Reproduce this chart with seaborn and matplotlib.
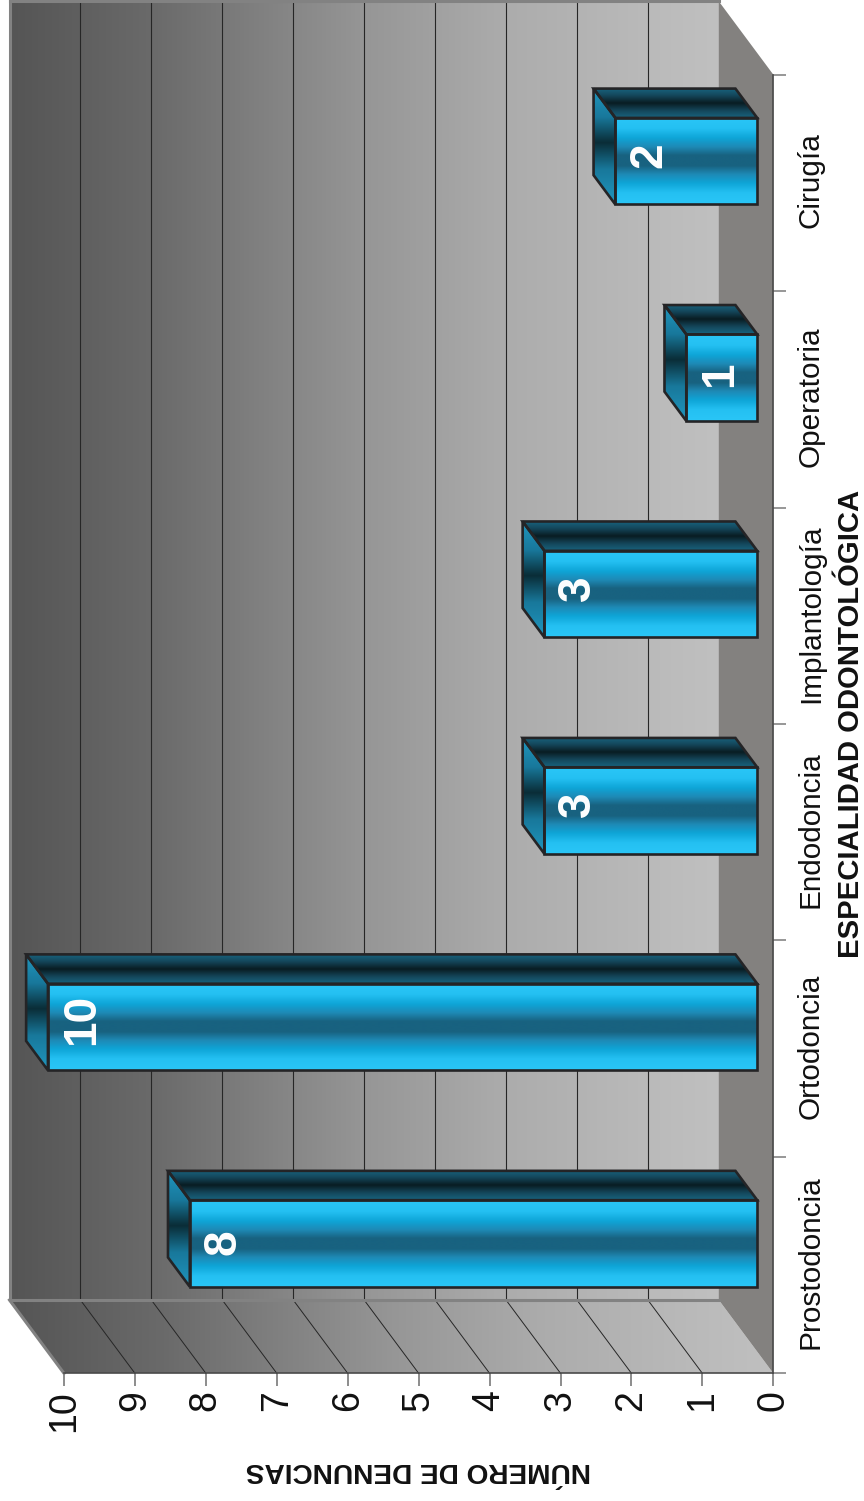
import numpy as np
import pandas as pd
import matplotlib
matplotlib.use("Agg")
import matplotlib.pyplot as plt
import seaborn as sns
from matplotlib.colors import LinearSegmentedColormap
from matplotlib.patches import Polygon
from matplotlib.transforms import Affine2D, IdentityTransform

categories = ["Prostodoncia", "Ortodoncia", "Endodoncia", "Implantología", "Operatoria", "Cirugía"]
values = [8, 10, 3, 3, 1, 2]
value_ticks = list(range(11))
x_title = "NÚMERO DE DENUNCIAS"
y_title = "ESPECIALIDAD ODONTOLÓGICA"
label_nudge = [1, 8, 6, 6, 3, 6]  # vertical shift of the value labels, pixels

W, H = 864, 1501
DEPTH = np.array([-54.5, 73.3])   # full floor depth in display pixels
FRONT, BACK = 0.295, 0.695        # bar position within the depth

sns.set_theme(style="white")
plt.rcParams["font.family"] = ["Liberation Sans", "DejaVu Sans"]

fig = plt.figure(figsize=(W / 100, H / 100), dpi=100, facecolor="white")
ax = fig.add_axes([64 / W, (H - 1373.3) / H, 709.3 / W, 1298.7 / H])
ax.patch.set_visible(False)

df = pd.DataFrame({"cat": categories, "val": values})
sns.barplot(data=df, x="val", y="cat", order=categories, orient="h", width=0.4, ax=ax,
            color="#22b5e5", saturation=1, errorbar=None)
ax.set_xlim(10, 0)
ax.set_ylim(-0.5, len(categories) - 0.5)
ax.set_aspect("auto")
fig.canvas.draw()


def P(v, c, d=0.0):
    return ax.transData.transform((v, c)) + d * DEPTH


def gradient(stops, n=256):
    cm = LinearSegmentedColormap.from_list("g", [(p, tuple(i / 255 for i in c)) for p, c in stops])
    return cm(np.linspace(0, 1, n))


def fill(poly, colors, axis, zorder, extent=None):
    """Draw a gradient clipped to the polygon; poly is in display pixels."""
    poly = np.asarray(poly)
    x0, y0 = poly.min(axis=0)
    x1, y1 = poly.max(axis=0)
    if extent is not None:
        x0, x1 = extent
    arr = colors[np.newaxis, :, :] if axis == "x" else colors[:, np.newaxis, :]
    im = ax.imshow(arr, extent=(x0, x1, y0, y1), aspect="auto", origin="upper",
                   interpolation="bilinear", transform=IdentityTransform(), zorder=zorder)
    clip = Polygon(poly, closed=True, transform=IdentityTransform())
    im.set_clip_box(fig.bbox)
    im.set_clip_path(clip)
    return im


def line(a, b, color, lw, zorder):
    ax.plot([a[0], b[0]], [a[1], b[1]], color=color, lw=lw, transform=IdentityTransform(),
            clip_on=False, zorder=zorder, solid_capstyle="projecting")


ymin, ymax = ax.get_ylim()
wall = gradient([(0, (85, 85, 85)), (0.2, (106, 106, 106)), (0.5, (150, 150, 150)),
                 (0.7, (172, 172, 172)), (0.9, (186, 186, 186)), (1, (192, 192, 192))])
back_range = (P(10, ymin, 1)[0], P(0, ymin, 1)[0])

# back wall
back_poly = [P(10, ymin, 1), P(0, ymin, 1), P(0, ymax, 1), P(10, ymax, 1)]
fill(back_poly, wall, "x", 1, back_range)
# lower side wall
side_poly = [P(10, ymin, 0), P(0, ymin, 0), P(0, ymin, 1), P(10, ymin, 1)]
fill(side_poly, wall, "x", 1, (back_range[0], P(0, ymin, 0)[0]))
# right floor
ax.add_patch(Polygon([P(0, ymin, 0), P(0, ymax, 0), P(0, ymax, 1), P(0, ymin, 1)], closed=True,
                     transform=IdentityTransform(), facecolor=(131 / 255, 129 / 255, 127 / 255),
                     edgecolor="none", zorder=1, clip_on=False))

# grid
for v in value_ticks[1:-1]:
    line(P(v, ymin, 1), P(v, ymax, 1), (0.15, 0.15, 0.15), 0.8, 2)
    line(P(v, ymin, 0), P(v, ymin, 1), (0.15, 0.15, 0.15), 0.7, 2)

# wall borders
border = (0.51, 0.51, 0.51)
line(P(10, ymin, 1), P(10, ymax, 1), border, 2.2, 3)
line(P(10, ymax, 1), P(0, ymax, 1), border, 2.2, 3)
line(P(10, ymin, 1), P(0, ymin, 1), border, 2.2, 3)
line(P(10, ymin, 1), P(10, ymin, 0), border, 2.2, 3)

# bars: seaborn's rectangles moved back to their depth, with gradient faces
front_g = gradient([(0, (42, 198, 247)), (0.13, (36, 192, 242)), (0.24, (14, 165, 215)), (0.34, (30, 138, 182)),
                    (0.44, (24, 98, 128)), (0.56, (24, 98, 128)), (0.66, (30, 138, 182)),
                    (0.76, (14, 165, 215)), (0.87, (36, 192, 242)), (1, (42, 198, 247))])
top_g = gradient([(0, (24, 100, 128)), (0.25, (20, 70, 90)), (0.5, (9, 28, 34)), (0.75, (20, 70, 90)), (1, (24, 100, 128))])
side_g = gradient([(0, (32, 150, 190)), (0.25, (24, 120, 155)), (0.47, (10, 45, 55)), (0.7, (24, 120, 155)), (1, (32, 150, 190))])
edge = (0.14, 0.14, 0.15)

for i, (bar, val) in enumerate(zip(ax.patches, values)):
    v = bar.get_width()
    c0, c1 = bar.get_y(), bar.get_y() + bar.get_height()
    z = 5 + i
    bar.set_transform(ax.transData + Affine2D().translate(*(FRONT * DEPTH)))
    bar.set(facecolor="none", edgecolor=edge, linewidth=1.9, zorder=z + 0.4, clip_on=False)
    bar.set_joinstyle("miter")
    front = [P(v, c0, FRONT), P(0, c0, FRONT), P(0, c1, FRONT), P(v, c1, FRONT)]
    top = [P(v, c1, FRONT), P(0, c1, FRONT), P(0, c1, BACK), P(v, c1, BACK)]
    left = [P(v, c0, FRONT), P(v, c1, FRONT), P(v, c1, BACK), P(v, c0, BACK)]
    fill(front, front_g, "y", z)
    fill(top, top_g, "y", z)
    fill(left, side_g, "y", z)
    for poly in (top, left):
        ax.add_patch(Polygon(poly, closed=True, transform=IdentityTransform(), facecolor="none",
                             edgecolor=edge, linewidth=1.9, joinstyle="miter", zorder=z + 0.3, clip_on=False))
    px = P(v, (c0 + c1) / 2, FRONT)
    ax.text(px[0] + 34, px[1] + label_nudge[i], str(val), transform=IdentityTransform(), rotation=90,
            ha="center", va="center", color="white", fontsize=33, fontweight="bold",
            zorder=z + 0.5, clip_on=False)

# axes furniture
ax.set_xticks(value_ticks)
ax.set_xticklabels([str(t) for t in value_ticks], rotation=90, ha="center", va="top", fontsize=27, color="#111111")
ax.tick_params(axis="x", bottom=True, length=9.4, width=1.1, color="#6e6e6e", pad=3)
ax.yaxis.tick_right()
ax.set_yticks(range(len(categories)))
ax.set_yticklabels(categories, rotation=90, va="center", ha="left", fontsize=21.4, color="#111111")
ax.set_yticks(np.arange(-0.5, len(categories)), minor=True)
ax.tick_params(axis="y", which="major", right=False, left=False, length=0, pad=17)
ax.tick_params(axis="y", which="minor", right=True, left=False, length=9.4, width=1.1, color="#7a7a7a")
for lab in ax.get_yticklabels():
    lab.set_transform(lab.get_transform() + Affine2D().translate(0, 2.5))
ax.grid(False)
for name, sp in ax.spines.items():
    sp.set_visible(name in ("right", "bottom"))
    sp.set_color("#4a4a4a")
    sp.set_linewidth(1.2)
    sp.set_zorder(4)

ax.set_xlabel(x_title, rotation=180, fontsize=20.2, fontweight="bold", color="#111111")
ax.xaxis.label.set(ha="center", va="center")
ax.xaxis.set_label_coords(0.5, -0.0745)
ax.set_ylabel(y_title, rotation=90, fontsize=21.1, fontweight="bold", color="#111111")
ax.yaxis.set_label_position("right")
ax.yaxis.label.set(ha="center", va="center")
ax.yaxis.set_label_coords(1.1095, 0.5)

fig.savefig("out.png", dpi=100, facecolor="white")
